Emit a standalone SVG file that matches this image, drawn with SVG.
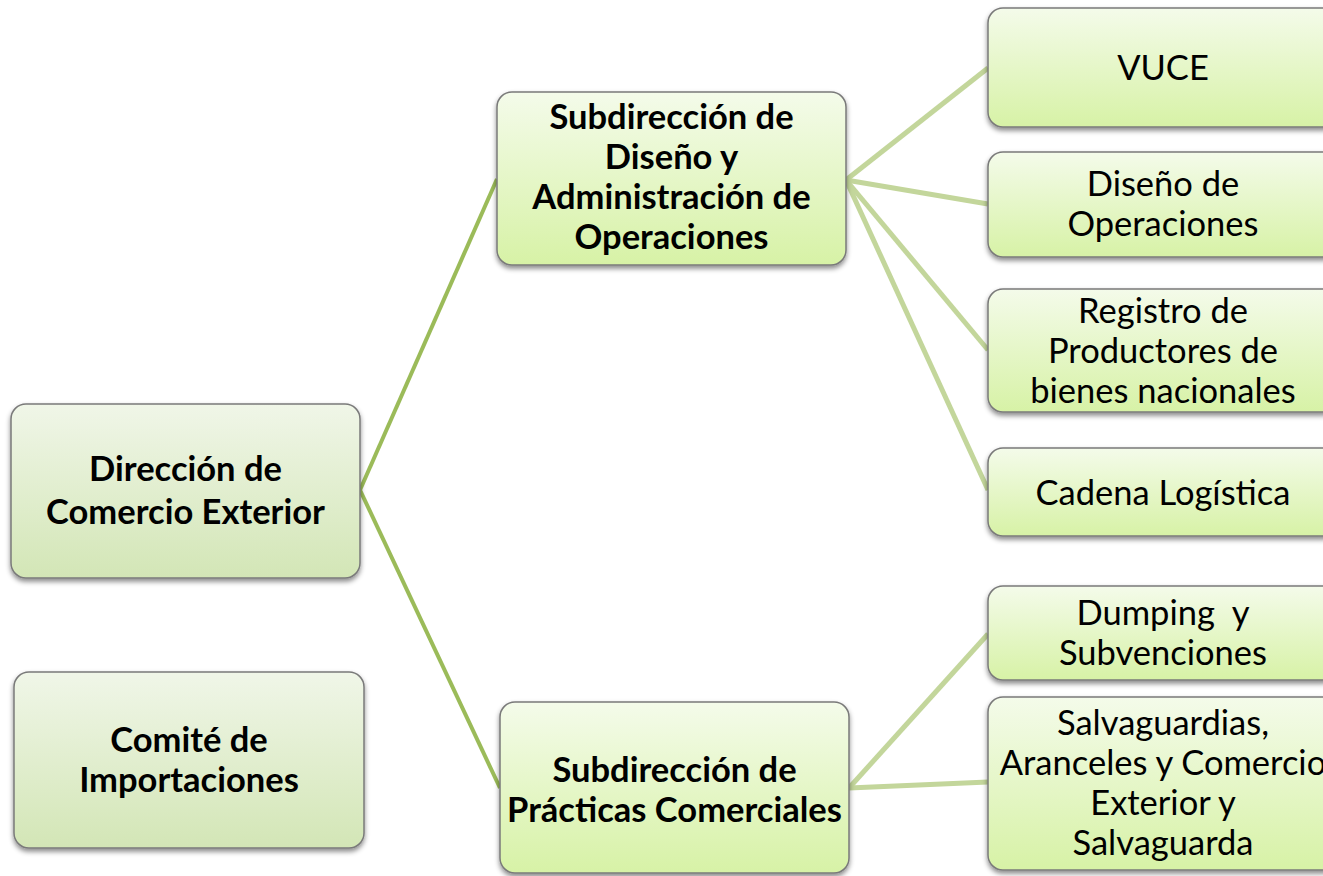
<svg xmlns="http://www.w3.org/2000/svg" width="1323" height="876" viewBox="0 0 1323 876">
<defs>
<linearGradient id="gL" x1="0" y1="0" x2="0" y2="1">
<stop offset="0" stop-color="#f0f6e8"/>
<stop offset="1" stop-color="#d3e6b6"/>
</linearGradient>
<linearGradient id="gR" x1="0" y1="0" x2="0" y2="1">
<stop offset="0" stop-color="#f4fbea"/>
<stop offset="1" stop-color="#d7f2a6"/>
</linearGradient>
<filter id="sh" x="-10%" y="-10%" width="120%" height="130%">
<feDropShadow dx="0" dy="3" stdDeviation="2.5" flood-color="#000" flood-opacity="0.45"/>
</filter>
<style>
.box{stroke:#7a7a7a;stroke-width:1.5;filter:url(#sh)}
.l{fill:url(#gL)}
.r{fill:url(#gR)}
.tb{font-family:Lato,"Open Sans",sans-serif;font-weight:bold;font-size:34.5px;fill:#000;text-anchor:middle}
.tr{font-family:Lato,"Open Sans",sans-serif;font-size:34.5px;fill:#000;text-anchor:middle}
.c1{stroke:#9bbb59;stroke-width:4;fill:none}
.c2{stroke:#c3d69b;stroke-width:5;fill:none}
</style>
</defs>
<rect width="1323" height="876" fill="#fff"/>
<g id="connectors">
<line class="c1" x1="360" y1="490" x2="497" y2="179"/>
<line class="c1" x1="360" y1="490" x2="500" y2="788"/>
<line class="c2" x1="846" y1="180" x2="988" y2="68"/>
<line class="c2" x1="846" y1="180" x2="988" y2="204"/>
<line class="c2" x1="846" y1="180" x2="988" y2="350"/>
<line class="c2" x1="846" y1="180" x2="988" y2="490"/>
<line class="c2" x1="849" y1="788" x2="988" y2="634"/>
<line class="c2" x1="849" y1="788" x2="988" y2="782"/>
</g>
<g id="n-direccion">
<rect class="box l" x="11" y="404" width="349" height="174" rx="15"/>
<text class="tb"><tspan x="185.5" y="481">Dirección de</tspan><tspan x="185.5" y="524">Comercio Exterior</tspan></text>
</g>
<g id="n-comite">
<rect class="box l" x="14" y="672" width="350" height="176" rx="15"/>
<text class="tb"><tspan x="189" y="752">Comité de</tspan><tspan x="189" y="792">Importaciones</tspan></text>
</g>
<g id="n-sub-diseno">
<rect class="box r" x="497" y="92" width="349" height="173" rx="15"/>
<text class="tb"><tspan x="671.5" y="129">Subdirección de</tspan><tspan x="671.5" y="169">Diseño y</tspan><tspan x="671.5" y="209">Administración de</tspan><tspan x="671.5" y="249">Operaciones</tspan></text>
</g>
<g id="n-sub-practicas">
<rect class="box r" x="500" y="702" width="349" height="171" rx="15"/>
<text class="tb"><tspan x="674.5" y="782">Subdirección de</tspan><tspan x="674.5" y="822">Prácticas Comerciales</tspan></text>
</g>
<g id="n-vuce">
<rect class="box r" x="988" y="8" width="350" height="119" rx="15"/>
<text class="tr"><tspan x="1163" y="80">VUCE</tspan></text>
</g>
<g id="n-diseno-op">
<rect class="box r" x="988" y="152" width="350" height="105" rx="15"/>
<text class="tr"><tspan x="1163" y="196">Diseño de</tspan><tspan x="1163" y="236">Operaciones</tspan></text>
</g>
<g id="n-registro">
<rect class="box r" x="988" y="289" width="350" height="123" rx="15"/>
<text class="tr"><tspan x="1163" y="323">Registro de</tspan><tspan x="1163" y="363">Productores de</tspan><tspan x="1163" y="403">bienes nacionales</tspan></text>
</g>
<g id="n-cadena">
<rect class="box r" x="988" y="448" width="350" height="88" rx="15"/>
<text class="tr"><tspan x="1163" y="505">Cadena Logística</tspan></text>
</g>
<g id="n-dumping">
<rect class="box r" x="988" y="586" width="350" height="94" rx="15"/>
<text class="tr"><tspan x="1163" y="625">Dumping&#160; y</tspan><tspan x="1163" y="665">Subvenciones</tspan></text>
</g>
<g id="n-salvaguardias">
<rect class="box r" x="988" y="697" width="350" height="173" rx="15"/>
<text class="tr"><tspan x="1163" y="735">Salvaguardias,</tspan><tspan x="1163" y="775">Aranceles y Comercio</tspan><tspan x="1163" y="815">Exterior y</tspan><tspan x="1163" y="855">Salvaguarda</tspan></text>
</g>
</svg>
